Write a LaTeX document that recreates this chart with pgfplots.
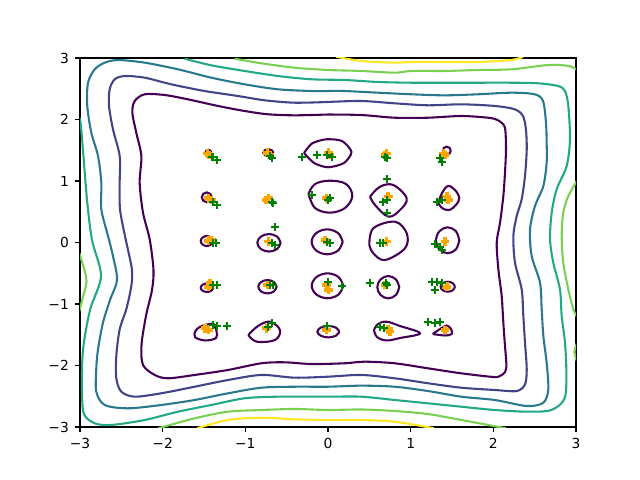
\documentclass[border=0pt]{standalone}
\usepackage{fontspec}
\setmainfont{DejaVu Sans}
\usepackage{pgfplots}
\pgfplotsset{compat=1.18}

\definecolor{lv0}{HTML}{440154}
\definecolor{lv1}{HTML}{414487}
\definecolor{lv2}{HTML}{2A788E}
\definecolor{lv3}{HTML}{22A884}
\definecolor{lv4}{HTML}{7AD151}
\definecolor{lv5}{HTML}{FDE725}
\definecolor{mplorange}{HTML}{FFA500}
\definecolor{mplgreen}{HTML}{008000}

\begin{document}
\begin{tikzpicture}
\begin{axis}[
    scale only axis,
    width=4.96in, height=3.69in,
    xmin=-3, xmax=3, ymin=-3, ymax=3,
    xtick={-3,-2,-1,0,1,2,3},
    ytick={-3,-2,-1,0,1,2,3},
    xticklabels={−3,−2,−1,0,1,2,3},
    yticklabels={−3,−2,−1,0,1,2,3},
    tick pos=left,
    tick align=outside,
    major tick length=3.5pt,
    every tick/.style={black, line width=0.8pt},
    axis line style={line width=0.8pt},
    ticklabel style={font=\fontsize{10}{12}\selectfont},
    xticklabel style={yshift=-1pt},
    yticklabel style={xshift=-1pt},
    contour/.style={line width=1.5pt, mark=none, smooth, tension=0.5},
    loop/.style={line width=1.5pt, mark=none, smooth, tension=0.6, color=lv0},
]

% scatter: orange (filled plus) and green (+)
\addplot[only marks, mark=+, mark size=3.2pt, color=mplorange, line width=2.6pt] coordinates {
(-1.460,1.450) (-1.436,1.423) (-0.734,1.460) (-0.710,1.423) (0.004,1.460) (0.024,1.423)
(0.710,1.450) (0.690,1.423) (1.395,1.450) (1.415,1.423)
(-1.448,0.719) (-1.407,0.691) (-0.722,0.719) (-0.750,0.691) (-0.016,0.719)
(0.729,0.745) (1.436,0.745) (1.455,0.691)
(-1.448,0.029) (-1.407,0.041) (-0.722,0.013) (-0.036,0.041) (0.710,0.013) (1.415,0.013)
(-1.427,-0.663) (-1.448,-0.719) (-0.734,-0.691) (-0.016,-0.691) (0.004,-0.772)
(0.690,-0.691) (1.436,-0.719)
(-1.488,-1.395) (-1.448,-1.423) (-0.742,-1.395) (-0.016,-1.423) (0.729,-1.411)
(0.750,-1.450) (1.415,-1.423)
};
\addplot[only marks, mark=+, mark size=3pt, color=mplgreen, line width=1.6pt] coordinates {
(-1.387,1.385) (-1.346,1.341) (-1.407,1.395) (-0.702,1.407) (-0.681,1.369)
(-0.318,1.395) (-0.137,1.423) (-0.016,1.423) (0.045,1.385) (0.690,1.385) (0.710,1.369)
(1.355,1.369) (1.375,1.314)
(-1.387,0.663) (-1.346,0.610) (-0.681,0.663) (-0.662,0.637) (-0.197,0.772)
(0.004,0.691) (0.024,0.719) (0.710,1.028) (0.669,0.663) (0.710,0.691) (0.710,0.475)
(1.315,0.663) (1.375,0.691) (-0.641,0.247)
(-1.387,-0.013) (-1.355,-0.003) (-0.681,-0.013) (-0.641,-0.041) (-0.016,0.013)
(0.024,-0.013) (0.629,-0.013) (0.669,-0.013) (1.294,-0.024) (1.355,-0.068) (1.375,-0.122)
(-1.387,-0.691) (-1.346,-0.691) (-0.702,-0.691) (-0.669,-0.691) (0.004,-0.637)
(0.166,-0.707) (0.508,-0.654) (0.702,-0.654) (0.717,-0.691) (1.254,-0.637)
(1.315,-0.637) (1.294,-0.772) (1.375,-0.663)
(-1.387,-1.341) (-1.346,-1.358) (-1.225,-1.358) (-0.722,-1.369) (-0.681,-1.304)
(-0.016,-1.358) (0.629,-1.369) (0.677,-1.395) (1.213,-1.288) (1.294,-1.304) (1.355,-1.288)
};

% level 0: outer box
\addplot[contour, color=lv0] coordinates {
(0,2.081) (0.403,2.073) (0.807,2.029) (1.210,2.029) (1.612,2.057) (1.935,2.029)
(2.044,1.996) (2.117,1.927) (2.145,1.830) (2.153,1.515) (2.141,1.135) (2.121,0.756) (2.081,0.322)
(2.041,-0.003) (2.061,-0.436) (2.101,-0.870) (2.121,-1.304) (2.141,-1.683)
(2.158,-1.990) (2.140,-2.110) (2.080,-2.170) (2.000,-2.187)
(1.612,-2.127) (1.210,-2.046) (0.807,-1.964) (0.444,-1.938) (0.202,-1.964)
(-0.202,-1.976) (-0.524,-1.948) (-0.807,-1.964) (-1.210,-2.073) (-1.613,-2.154)
(-1.935,-2.208) (-2.096,-2.154) (-2.238,-1.992)
(-2.256,-1.667) (-2.202,-1.195) (-2.129,-0.772) (-2.111,-0.447) (-2.157,0.052)
(-2.238,0.485) (-2.278,0.972) (-2.258,1.407) (-2.319,1.785) (-2.367,2.111)
(-2.338,2.301) (-2.217,2.410) (-1.975,2.398) (-1.694,2.328) (-1.331,2.220)
(-1.008,2.138) (-0.726,2.085) (-0.403,2.068) (0,2.081)
};
% level 1
\addplot[contour, color=lv1] coordinates {
(0,2.285) (0.403,2.301) (0.807,2.263) (1.210,2.231) (1.612,2.247) (2.017,2.220)
(2.258,2.166) (2.359,2.057) (2.395,1.829) (2.404,1.515) (2.383,1.081) (2.343,0.702)
(2.283,0.431) (2.242,0.106) (2.262,-0.328) (2.343,-0.761) (2.363,-1.195)
(2.383,-1.629) (2.404,-2.062) (2.383,-2.306) (2.283,-2.415) (2.017,-2.398)
(1.612,-2.361) (1.210,-2.289) (0.807,-2.208) (0.403,-2.154) (0,-2.182)
(-0.403,-2.198) (-0.807,-2.154) (-1.210,-2.236) (-1.613,-2.345) (-2.017,-2.452)
(-2.338,-2.507) (-2.500,-2.426) (-2.561,-2.208) (-2.561,-1.846) (-2.520,-1.411)
(-2.440,-1.086) (-2.379,-0.707) (-2.371,-0.447) (-2.419,-0.122) (-2.456,0.106)
(-2.516,0.540) (-2.520,0.972) (-2.520,1.407) (-2.601,1.841) (-2.649,2.220)
(-2.641,2.491) (-2.580,2.654) (-2.459,2.707) (-2.217,2.680) (-1.896,2.572)
(-1.492,2.463) (-1.089,2.382) (-0.766,2.312) (-0.403,2.273) (0,2.285)
};
% level 2
\addplot[contour, color=lv2] coordinates {
(0,2.463) (0.202,2.463) (0.605,2.436) (1.008,2.410) (1.412,2.393) (1.815,2.410)
(2.217,2.436) (2.500,2.410) (2.601,2.301) (2.637,1.948) (2.645,1.623) (2.645,1.298)
(2.605,0.919) (2.504,0.593) (2.444,0.215) (2.464,-0.220) (2.565,-0.654)
(2.585,-1.086) (2.605,-1.520) (2.645,-1.954) (2.665,-2.387) (2.605,-2.605)
(2.404,-2.659) (2.017,-2.561) (1.612,-2.507) (1.210,-2.415) (0.807,-2.345)
(0.403,-2.328) (0,-2.345) (-0.403,-2.345) (-0.807,-2.361) (-1.210,-2.452)
(-1.613,-2.561) (-2.017,-2.642) (-2.419,-2.696) (-2.701,-2.642) (-2.803,-2.426)
(-2.803,-2.046) (-2.782,-1.737) (-2.722,-1.304) (-2.637,-0.935) (-2.552,-0.610)
(-2.601,-0.220) (-2.661,0.106) (-2.742,0.540) (-2.742,0.972) (-2.782,1.407)
(-2.863,1.785) (-2.912,2.220) (-2.903,2.598) (-2.822,2.816) (-2.701,2.924)
(-2.540,2.967) (-2.217,2.924) (-1.815,2.816) (-1.412,2.680) (-1.008,2.572)
(-0.605,2.491) (-0.202,2.463) (0,2.463)
};
% level 3
\addplot[contour, color=lv3] coordinates {
(-1.734,2.989) (-1.412,2.881) (-1.008,2.789) (-0.605,2.707) (-0.202,2.654)
(0.202,2.642) (0.605,2.610) (1.008,2.598) (1.412,2.598) (1.815,2.598) (2.217,2.598)
(2.540,2.589) (2.782,2.545) (2.867,2.463) (2.907,2.220) (2.927,1.678) (2.887,1.244)
(2.766,0.865) (2.706,0.485) (2.686,0.052) (2.725,-0.328) (2.806,-0.761)
(2.827,-1.195) (2.867,-1.629) (2.883,-2.101) (2.863,-2.533) (2.701,-2.724)
(2.419,-2.751) (2.017,-2.724) (1.612,-2.670) (1.210,-2.615) (0.807,-2.561)
(0.403,-2.507) (0,-2.507) (-0.605,-2.507) (-1.008,-2.533) (-1.412,-2.642)
(-1.815,-2.751) (-2.217,-2.886) (-2.621,-2.967) (-2.822,-2.940) (-2.952,-2.789)
(-2.976,-2.398) (-2.964,-1.748) (-2.879,-1.098) (-2.746,-0.545) (-2.855,0.041)
(-2.915,0.691) (-2.964,1.504) (-2.994,1.959) (-3.02,2.05)
};
% level 4
\addplot[contour, color=lv4] coordinates {
(-1.129,2.989) (-0.807,2.914) (-0.403,2.842) (0,2.805) (0.403,2.789) (0.807,2.761)
(1.008,2.789) (1.412,2.789) (1.815,2.805) (2.217,2.816) (2.621,2.881) (2.806,2.886)
(2.943,2.859) (3.02,2.80)
};
\addplot[contour, color=lv4] coordinates {
(3.02,1.02) (2.907,0.756) (2.846,0.485) (2.827,0.106) (2.846,-0.328) (2.907,-0.761)
(2.967,-1.086) (3.02,-1.22)
};
\addplot[contour, color=lv4] coordinates {
(3.01,-1.64) (2.982,-1.780) (3.01,-1.93)
};
\addplot[contour, color=lv4] coordinates {
(-3.01,-0.17) (-2.964,-0.366) (-2.921,-0.626) (-2.964,-0.886) (-3.01,-1.12)
};
\addplot[contour, color=lv4] coordinates {
(-2.05,-3.02) (-1.613,-2.859) (-1.210,-2.751) (-0.807,-2.724) (-0.403,-2.707)
(0,-2.724) (0.403,-2.715) (0.807,-2.740) (1.210,-2.789) (1.612,-2.886) (2.15,-3.02)
};
% level 5
\addplot[contour, color=lv5] coordinates {
(0.10,3.02) (0.403,2.951) (0.807,2.924) (1.008,2.935) (1.412,2.935) (1.815,2.935)
(2.217,2.967) (2.36,3.02)
};
\addplot[contour, color=lv5] coordinates {
(-1.58,-3.02) (-1.210,-2.886) (-0.807,-2.849) (-0.403,-2.875) (0,-2.886)
(0.403,-2.886) (0.807,-2.914) (1.28,-3.02)
};

% level 0: small loops around the grid points
\addplot[loop] coordinates {(-1.412,1.460) (-1.423,1.494) (-1.448,1.509) (-1.473,1.494) (-1.484,1.460) (-1.473,1.426) (-1.448,1.411) (-1.423,1.426) (-1.412,1.460)};
\addplot[loop] coordinates {(-0.662,1.460) (-0.680,1.500) (-0.722,1.517) (-0.764,1.500) (-0.782,1.460) (-0.764,1.420) (-0.722,1.403) (-0.680,1.420) (-0.662,1.460)};
\addplot[loop, tension=0.45] coordinates {(-0.290,1.455) (-0.194,1.610) (-0.024,1.678) (0.169,1.650) (0.284,1.472) (0.194,1.293) (0,1.223) (-0.169,1.293) (-0.290,1.455)};
\addplot[loop] coordinates {(1.484,1.493) (1.470,1.539) (1.436,1.558) (1.402,1.539) (1.388,1.493) (1.402,1.447) (1.436,1.428) (1.470,1.447) (1.484,1.493)};
\addplot[loop] coordinates {(-1.407,0.735) (-1.425,0.791) (-1.467,0.815) (-1.509,0.791) (-1.527,0.735) (-1.509,0.679) (-1.467,0.655) (-1.425,0.679) (-1.407,0.735)};
\addplot[loop] coordinates {(-0.236,0.789) (-0.157,0.951) (0.024,1.005) (0.218,0.951) (0.294,0.756) (0.206,0.561) (0.024,0.485) (-0.157,0.561) (-0.236,0.789)};
\addplot[loop] coordinates {(0.508,0.745) (0.629,0.907) (0.790,0.935) (0.952,0.719) (0.871,0.528) (0.729,0.420) (0.569,0.610) (0.508,0.745)};
\addplot[loop] coordinates {(1.334,0.642) (1.379,0.805) (1.452,0.919) (1.536,0.854) (1.588,0.724) (1.548,0.610) (1.464,0.528) (1.379,0.561) (1.334,0.642)};
\addplot[loop] coordinates {(-1.394,0.024) (-1.416,0.081) (-1.467,0.105) (-1.518,0.081) (-1.540,0.024) (-1.518,-0.033) (-1.467,-0.057) (-1.416,-0.033) (-1.394,0.024)};
\addplot[loop] coordinates {(-0.573,-0.005) (-0.615,0.095) (-0.714,0.138) (-0.813,0.095) (-0.855,-0.005) (-0.813,-0.105) (-0.714,-0.148) (-0.615,-0.105) (-0.573,-0.005)};
\addplot[loop] coordinates {(0.178,0.011) (0.122,0.153) (-0.010,0.214) (-0.142,0.153) (-0.198,0.011) (-0.142,-0.131) (-0.010,-0.192) (0.122,-0.131) (0.178,0.011)};
\addplot[loop] coordinates {(0.500,-0.041) (0.548,0.231) (0.810,0.338) (0.952,0.150) (0.931,-0.094) (0.690,-0.285) (0.548,-0.176) (0.500,-0.041)};
\addplot[loop] coordinates {(1.589,0.036) (1.547,0.185) (1.448,0.247) (1.349,0.185) (1.307,0.036) (1.349,-0.113) (1.448,-0.175) (1.547,-0.113) (1.589,0.036)};
\addplot[loop] coordinates {(-1.388,-0.735) (-1.411,-0.686) (-1.464,-0.665) (-1.517,-0.686) (-1.540,-0.735) (-1.517,-0.784) (-1.464,-0.805) (-1.411,-0.784) (-1.388,-0.735)};
\addplot[loop] coordinates {(-0.621,-0.719) (-0.654,-0.643) (-0.732,-0.610) (-0.810,-0.643) (-0.843,-0.719) (-0.810,-0.795) (-0.732,-0.828) (-0.654,-0.795) (-0.621,-0.719)};
\addplot[loop] coordinates {(0.185,-0.704) (0.128,-0.562) (-0.006,-0.501) (-0.140,-0.562) (-0.197,-0.704) (-0.140,-0.846) (-0.006,-0.907) (0.128,-0.846) (0.185,-0.704)};
\addplot[loop] coordinates {(0.862,-0.727) (0.822,-0.600) (0.729,-0.545) (0.636,-0.600) (0.596,-0.727) (0.636,-0.854) (0.729,-0.909) (0.822,-0.854) (0.862,-0.727)};
\addplot[loop] coordinates {(1.536,-0.719) (1.510,-0.662) (1.449,-0.638) (1.388,-0.662) (1.362,-0.719) (1.388,-0.776) (1.449,-0.800) (1.510,-0.776) (1.536,-0.719)};
\addplot[loop] coordinates {(-1.387,-1.317) (-1.349,-1.439) (-1.355,-1.553) (-1.488,-1.593) (-1.609,-1.537) (-1.597,-1.423) (-1.512,-1.350) (-1.387,-1.317)};
\addplot[loop] coordinates {(-0.964,-1.504) (-0.847,-1.358) (-0.702,-1.288) (-0.581,-1.423) (-0.641,-1.585) (-0.862,-1.613) (-0.964,-1.504)};
\addplot[loop] coordinates {(0.137,-1.450) (0.097,-1.385) (0.004,-1.357) (-0.089,-1.385) (-0.129,-1.450) (-0.089,-1.515) (0.004,-1.543) (0.097,-1.515) (0.137,-1.450)};
\addplot[loop] coordinates {(0.556,-1.423) (0.605,-1.325) (0.710,-1.288) (0.871,-1.358) (1.113,-1.476) (0.871,-1.553) (0.710,-1.593) (0.593,-1.537) (0.556,-1.423)};
\addplot[loop] coordinates {(1.267,-1.488) (1.355,-1.407) (1.436,-1.350) (1.488,-1.407) (1.496,-1.488) (1.415,-1.512) (1.267,-1.488)};

\end{axis}
\path ([shift={(-0.8in,-0.53in)}]current axis.south west) rectangle ([shift={(0.64in,0.58in)}]current axis.north east);
\end{tikzpicture}
\end{document}
